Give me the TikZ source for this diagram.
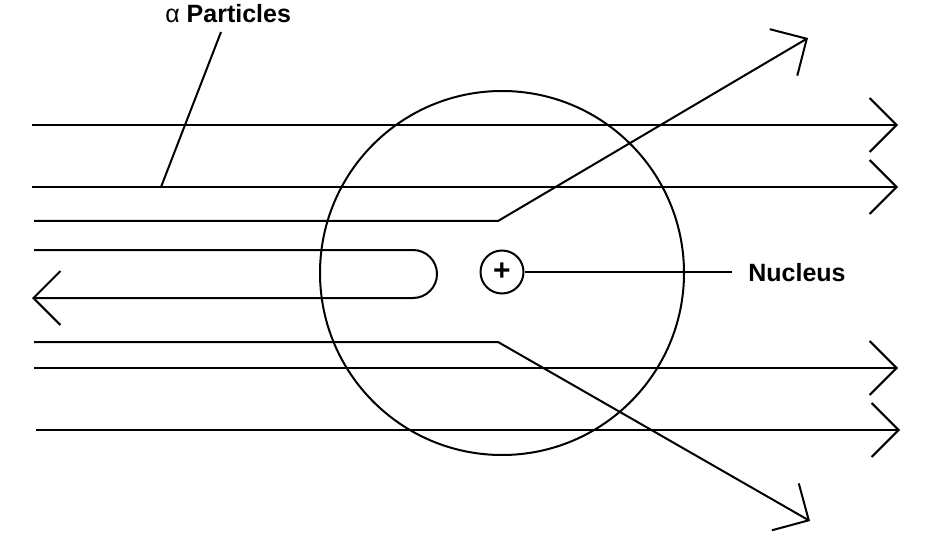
\documentclass[tikz,border=0pt]{standalone}
\usepackage{fontspec}
\setmainfont{Liberation Sans}
\usetikzlibrary{arrows.meta}
\begin{document}
\begin{tikzpicture}[x=1pt,y=-1pt,line width=2pt,>={Straight Barb[length=27pt,width=54pt]},
	every node/.style={font=\fontsize{25}{29}\selectfont\bfseries}]
	\useasboundingbox (0,0) rectangle (944,545);
	% atom and nucleus
	\draw (502,273) circle (182pt);
	\node[draw,circle,minimum size=43pt,inner sep=0pt,font=\fontsize{30}{30}\selectfont\bfseries] at (502,272) (N) {+};
	\coordinate (n) at (732,272);
	\node[anchor=base west] at (744,281) (nl) {Nucleus};
	\draw (N) -- (n);
	
	% straight through
	\coordinate (a) at (32,125);   \coordinate (A) at (898,125);
	\coordinate (b) at (32,187);   \coordinate (B) at (898,187);
	\coordinate (f) at (34,368);   \coordinate (F) at (898,368);
	\coordinate (g) at (36,430);   \coordinate (G) at (900,430);
	\draw[->] (a) -- (A);
	\draw[->] (b) -- (B);
	\draw[->] (f) -- (F);
	\draw[->] (g) -- (G);
	
	% deflected
	\coordinate (c) at (34,221);   \coordinate (c1) at (498,221);  \coordinate (C) at (808,38);
	\coordinate (e) at (34,342);   \coordinate (e1) at (498,342);  \coordinate (E) at (810,521);
	\draw[->] (c) -- (c1) -- (C);
	\draw[->] (e) -- (e1) -- (E);
	
	% bounced back
	\coordinate (d) at (34,250);   \coordinate (d1) at (413,250);  \coordinate (D) at (32,298);
	\draw[->] (d) -- (d1) arc[start angle=90,end angle=-90,radius=24pt] -- (D);
	
	% label
	\node[anchor=base west] at (161,23) (al) {\mdseries α \bfseries Particles};
	\coordinate (p) at (221,32);
	\coordinate (q) at (161,187);
	\draw (p) -- (q);
\end{tikzpicture}
\end{document}
